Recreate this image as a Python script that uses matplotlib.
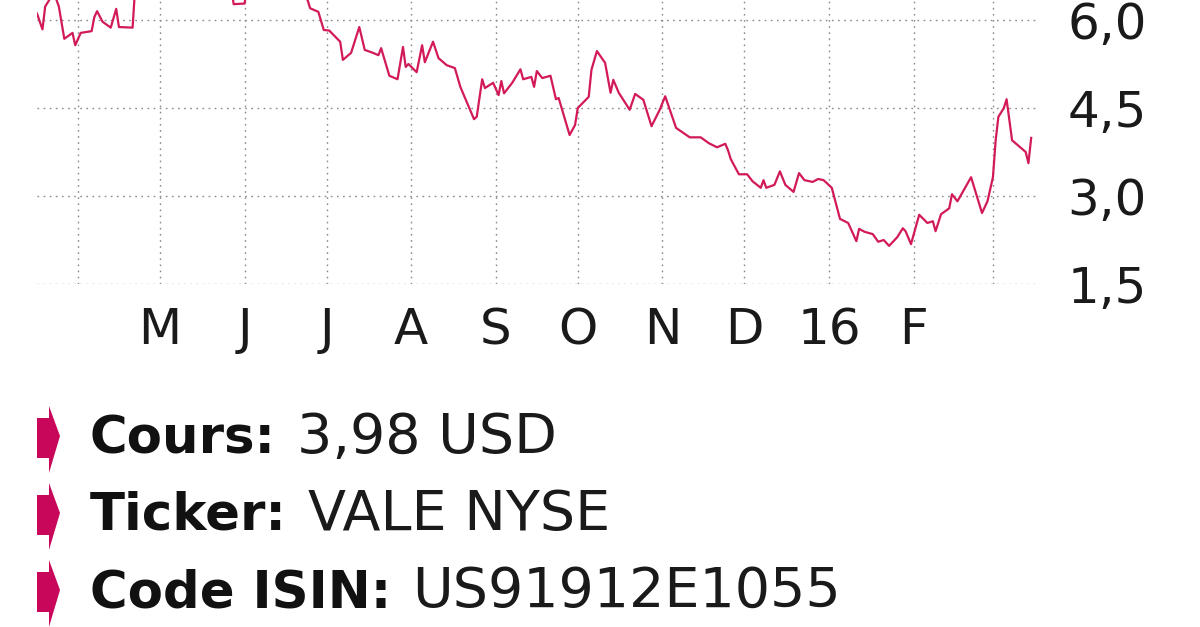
import matplotlib.pyplot as plt
import matplotlib.dates as mdates
from matplotlib.patches import Polygon
import numpy as np
import datetime as dt

# price history (USD)
dates = ["2015-03-17", "2015-03-19", "2015-03-20", "2015-03-22", "2015-03-24", "2015-03-25",
         "2015-03-27", "2015-03-30", "2015-03-31", "2015-04-02", "2015-04-06", "2015-04-07",
         "2015-04-08", "2015-04-10", "2015-04-13", "2015-04-15", "2015-04-16", "2015-04-21",
         "2015-04-22", "2015-04-28", "2015-05-06", "2015-05-14", "2015-05-21", "2015-05-27",
         "2015-05-28", "2015-06-01", "2015-06-02", "2015-06-09", "2015-06-16", "2015-06-23",
         "2015-06-25", "2015-06-28", "2015-06-30", "2015-07-02", "2015-07-06", "2015-07-07",
         "2015-07-10", "2015-07-13", "2015-07-15", "2015-07-18", "2015-07-20", "2015-07-21",
         "2015-07-24", "2015-07-27", "2015-07-29", "2015-07-30", "2015-07-31", "2015-08-03",
         "2015-08-05", "2015-08-06", "2015-08-09", "2015-08-11", "2015-08-14", "2015-08-17",
         "2015-08-19", "2015-08-24", "2015-08-25", "2015-08-27", "2015-08-28", "2015-08-31",
         "2015-09-02", "2015-09-03", "2015-09-04", "2015-09-07", "2015-09-10", "2015-09-11",
         "2015-09-14", "2015-09-15", "2015-09-16", "2015-09-18", "2015-09-21", "2015-09-23",
         "2015-09-24", "2015-09-28", "2015-09-30", "2015-10-01", "2015-10-05", "2015-10-06",
         "2015-10-08", "2015-10-11", "2015-10-13", "2015-10-14", "2015-10-16", "2015-10-20",
         "2015-10-22", "2015-10-25", "2015-10-28", "2015-10-31", "2015-11-02", "2015-11-06",
         "2015-11-11", "2015-11-15", "2015-11-18", "2015-11-21", "2015-11-24", "2015-11-25",
         "2015-11-26", "2015-11-29", "2015-12-02", "2015-12-04", "2015-12-07", "2015-12-08",
         "2015-12-09", "2015-12-12", "2015-12-14", "2015-12-16", "2015-12-19", "2015-12-21",
         "2015-12-23", "2015-12-26", "2015-12-28", "2015-12-30", "2016-01-02", "2016-01-05",
         "2016-01-08", "2016-01-11", "2016-01-12", "2016-01-14", "2016-01-17", "2016-01-19",
         "2016-01-21", "2016-01-23", "2016-01-26", "2016-01-28", "2016-01-29", "2016-01-31",
         "2016-02-03", "2016-02-06", "2016-02-08", "2016-02-09", "2016-02-11", "2016-02-14",
         "2016-02-15", "2016-02-17", "2016-02-22", "2016-02-26", "2016-02-28", "2016-03-01",
         "2016-03-02", "2016-03-03", "2016-03-05", "2016-03-06", "2016-03-07", "2016-03-08",
         "2016-03-10", "2016-03-13", "2016-03-14", "2016-03-15"]
prices = [6.11, 5.84, 6.23, 6.38, 6.36, 6.23,
          5.68, 5.78, 5.57, 5.78, 5.81, 6.05,
          6.15, 5.97, 5.87, 6.19, 5.88, 5.87,
          6.60, 6.95, 7.05, 6.85, 6.75, 6.60,
          6.27, 6.28, 6.60, 6.80, 6.70, 6.50,
          6.20, 6.14, 5.83, 5.82, 5.63, 5.32,
          5.44, 5.88, 5.49, 5.44, 5.40, 5.52,
          5.05, 4.99, 5.54, 5.20, 5.25, 5.11,
          5.57, 5.28, 5.63, 5.35, 5.23, 5.18,
          4.86, 4.31, 4.35, 4.99, 4.84, 4.93,
          4.72, 4.96, 4.75, 4.93, 5.16, 4.99,
          5.03, 4.86, 5.13, 5.01, 5.05, 4.65,
          4.67, 4.04, 4.21, 4.50, 4.69, 5.15,
          5.47, 5.27, 4.76, 4.98, 4.76, 4.47,
          4.74, 4.64, 4.19, 4.47, 4.70, 4.16,
          4.00, 4.00, 3.90, 3.83, 3.89, 3.78,
          3.63, 3.37, 3.37, 3.25, 3.14, 3.27,
          3.14, 3.19, 3.42, 3.19, 3.07, 3.39,
          3.27, 3.24, 3.29, 3.27, 3.14, 2.61,
          2.54, 2.23, 2.44, 2.39, 2.35, 2.22,
          2.25, 2.15, 2.30, 2.45, 2.40, 2.18,
          2.68, 2.54, 2.57, 2.40, 2.69, 2.79,
          3.03, 2.91, 3.32, 2.71, 2.91, 3.32,
          3.95, 4.35, 4.50, 4.65, 4.30, 3.95,
          3.87, 3.75, 3.56, 3.99]

month_starts = ["2015-04-01", "2015-05-01", "2015-06-01", "2015-07-01", "2015-08-01", "2015-09-01",
                "2015-10-01", "2015-11-01", "2015-12-01", "2016-01-01", "2016-02-01", "2016-03-01"]
month_labels = ["", "M", "J", "J", "A", "S", "O", "N", "D", "16", "F", ""]
y_ticks = [1.5, 3.0, 4.5, 6.0]

info_keys = ["Cours:", "Ticker:", "Code ISIN:"]
info_vals = ["3,98 USD", "VALE NYSE", "US91912E1055"]

W, H = 1200, 627
red = "#d21a5a"
arrow_red = "#c8075a"

fig = plt.figure(figsize=(W / 100, H / 100), dpi=100)
fig.patch.set_facecolor("white")

# axes placed in pixel terms: left 37, right 1038, top 0, bottom 284
ax = fig.add_axes([37 / W, (H - 284) / H, (1038 - 37) / W, 284 / H])
x = [dt.datetime.strptime(d, "%Y-%m-%d") for d in dates]
ax.plot(x, prices, color=red, lw=1.6, solid_joinstyle="round")

ax.set_xlim(dt.datetime(2015, 3, 17), dt.datetime(2016, 3, 17, 12))
ax.set_ylim(1.5, 6.0 + 20 / 58.67)

ms = [dt.datetime.strptime(d, "%Y-%m-%d") for d in month_starts]
ax.set_xticks(ms)
ax.set_xticklabels(month_labels)
ax.set_yticks(y_ticks)
ax.set_yticklabels([f"{v:.1f}".replace(".", ",") for v in y_ticks])
ax.yaxis.tick_right()
ax.tick_params(axis="both", length=0, labelsize=36, labelcolor="#1a1a1a")
ax.tick_params(axis="y", pad=21)
ax.tick_params(axis="x", pad=16)
for s in ax.spines.values():
    s.set_visible(False)
ax.grid(True, color="#8a8a8a", lw=1.0, linestyle=(0, (1.2, 3.2)))
ax.set_axisbelow(True)

# info block below the chart
def fy(py):
    return 1 - py / H

baselines = [453, 530, 607]
fig.canvas.draw()
renderer = fig.canvas.get_renderer()
for key, val, b in zip(info_keys, info_vals, baselines):
    t = fig.text(90 / W, fy(b), key, fontsize=37, fontweight="bold",
                 color="#111111", va="baseline", ha="left")
    bb = t.get_window_extent(renderer)
    fig.text((bb.x1 + 21) / W, fy(b), val, fontsize=40, color="#1a1a1a",
             va="baseline", ha="left")
    # red marker: a block with an arrow head on its right side
    pts = [(37, b - 35), (49, b - 35), (49, b - 47), (60, b - 17),
           (49, b + 20), (49, b + 5), (37, b + 5)]
    fig.patches.append(Polygon([(px / W, fy(py)) for px, py in pts], closed=True,
                               transform=fig.transFigure, color=arrow_red, lw=0))

fig.savefig("out.png", dpi=100, facecolor="white")
